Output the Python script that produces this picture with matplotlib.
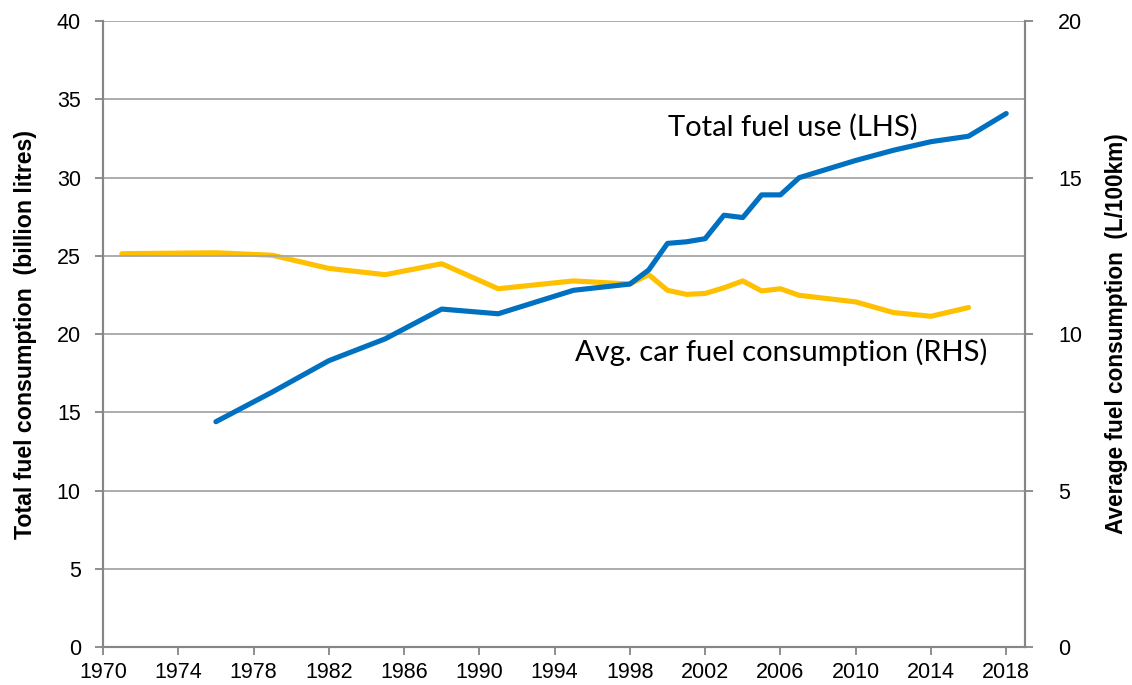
import matplotlib
matplotlib.use("Agg")
import matplotlib.pyplot as plt

# Data
years_total = [1976, 1979, 1982, 1985, 1988, 1991, 1995, 1998, 1999, 2000, 2001, 2002,
               2003, 2004, 2005, 2006, 2007, 2010, 2012, 2014, 2016, 2018]
total_fuel = [14.4, 16.3, 18.3, 19.7, 21.6, 21.3, 22.8, 23.2, 24.1, 25.8, 25.9, 26.1,
              27.6, 27.45, 28.9, 28.9, 30.0, 31.1, 31.75, 32.3, 32.65, 34.1]

years_avg = [1971, 1976, 1979, 1982, 1985, 1988, 1991, 1995, 1998, 1999, 2000, 2001,
             2002, 2003, 2004, 2005, 2006, 2007, 2010, 2012, 2014, 2016]
avg_consumption = [12.57, 12.6, 12.52, 12.1, 11.9, 12.25, 11.45, 11.7, 11.6, 11.9, 11.4, 11.27,
                   11.3, 11.48, 11.7, 11.38, 11.45, 11.24, 11.03, 10.69, 10.57, 10.85]

xticks = list(range(1970, 2019, 4))
left_ticks = list(range(0, 41, 5))
right_ticks = list(range(0, 21, 5))

BLUE = "#0070C0"
YELLOW = "#FFC000"
GRID = "#A6A6A6"
SPINE = "#868686"

plt.rcParams['font.family'] = ['Liberation Sans', 'DejaVu Sans']

fig = plt.figure(figsize=(11.32, 6.85), dpi=100)
ax = fig.add_axes([0.091, 0.0555, 0.8145, 0.9135])
ax2 = ax.twinx()

ax.set_xlim(1970, 2019)
ax.set_ylim(0, 40)
ax2.set_ylim(0, 20)

ax.set_yticks(left_ticks)
ax2.set_yticks(right_ticks)
ax.set_xticks(xticks)

ax.grid(axis='y', color=GRID, linewidth=1.3)
ax.set_axisbelow(True)

for a in (ax, ax2):
    for s in ['left', 'right', 'bottom']:
        a.spines[s].set_color(SPINE)
        a.spines[s].set_linewidth(1.5)
    a.spines['top'].set_visible(False)
    a.tick_params(colors=SPINE, labelcolor='black', labelsize=15.5, length=6, width=1.3)

ax.tick_params(axis='x', pad=5)
ax.tick_params(axis='y', pad=10)
ax2.tick_params(axis='y', pad=18)

ax2.plot(years_avg, avg_consumption, color=YELLOW, linewidth=3.7, solid_joinstyle='round',
         solid_capstyle='round', zorder=3)
ax.plot(years_total, total_fuel, color=BLUE, linewidth=3.7, solid_joinstyle='round',
        solid_capstyle='round', zorder=4)
ax.set_zorder(ax2.get_zorder() + 1)
ax.patch.set_visible(False)

ax.set_ylabel("Total fuel consumption  (billion litres)", fontsize=16.7, fontweight='bold', labelpad=14)
ax2.set_ylabel("Average fuel consumption  (L/100km)", fontsize=16.3, fontweight='bold', labelpad=16)

ax.text(2000.0, 33.25, "Total fuel use (LHS)", fontsize=21, family=['Lato', 'DejaVu Sans'],
        ha='left', va='center')
ax.text(1995.1, 18.85, "Avg. car fuel consumption (RHS)", fontsize=21, family=['Lato', 'DejaVu Sans'],
        ha='left', va='center')

fig.savefig("out.png", dpi=100)
